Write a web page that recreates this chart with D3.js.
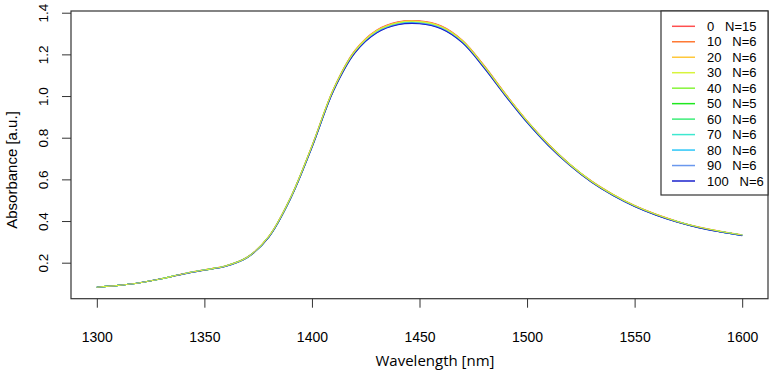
<!DOCTYPE html>
<html>
<head>
<meta charset="utf-8">
<script src="https://cdn.jsdelivr.net/npm/d3@7"></script>
<style>
  body { margin: 0; background: #fff; }
  svg { display: block; }
</style>
</head>
<body>
<div id="chart"></div>
<script>
// wavelength grid [nm]
const wavelengths = [1300, 1310, 1320, 1330, 1340, 1350, 1360, 1370, 1380, 1390, 1400,
    1410, 1420, 1430, 1440, 1450, 1460, 1470, 1480, 1490, 1500,
    1510, 1520, 1530, 1540, 1550, 1560, 1570, 1580, 1590, 1600];

// absorbance per series
const abs0 = [.082, .091, .104, .123, .147, .166, .185, .227, .327, .512, .761, 1.034, 1.219, 1.316, 1.356, 1.361, 1.337, 1.267, 1.147, 1.010, .881, .769, .672, .592, .528, .474, .432, .398, .371, .351, .334];
const abs10 = [.082, .091, .104, .123, .147, .166, .185, .227, .326, .511, .760, 1.033, 1.218, 1.314, 1.354, 1.359, 1.335, 1.266, 1.146, 1.009, .881, .768, .672, .591, .527, .474, .432, .398, .370, .350, .333];
const abs20 = [.082, .091, .104, .123, .146, .165, .185, .227, .326, .511, .759, 1.032, 1.217, 1.313, 1.353, 1.358, 1.334, 1.265, 1.144, 1.008, .880, .767, .671, .591, .527, .473, .431, .397, .370, .350, .333];
const abs30 = [.082, .091, .104, .123, .146, .165, .184, .226, .326, .510, .759, 1.031, 1.215, 1.312, 1.352, 1.357, 1.333, 1.264, 1.143, 1.007, .879, .767, .670, .590, .526, .473, .431, .397, .370, .350, .333];
const abs40 = [.082, .091, .104, .123, .146, .165, .184, .226, .325, .510, .758, 1.030, 1.214, 1.310, 1.350, 1.355, 1.331, 1.262, 1.142, 1.006, .878, .766, .670, .590, .526, .472, .430, .396, .369, .349, .332];
const abs50 = [.082, .091, .104, .123, .146, .165, .184, .226, .325, .509, .757, 1.029, 1.213, 1.309, 1.349, 1.354, 1.330, 1.261, 1.141, 1.005, .877, .765, .669, .589, .525, .472, .430, .396, .369, .349, .332];
const abs60 = [.082, .091, .104, .123, .146, .165, .184, .226, .325, .508, .756, 1.028, 1.212, 1.308, 1.348, 1.353, 1.329, 1.260, 1.140, 1.004, .876, .764, .668, .588, .524, .472, .430, .396, .369, .349, .332];
const abs70 = [.082, .091, .104, .123, .146, .165, .184, .226, .324, .508, .755, 1.027, 1.211, 1.306, 1.346, 1.351, 1.327, 1.258, 1.139, 1.003, .875, .763, .668, .588, .524, .471, .429, .395, .368, .348, .331];
const abs80 = [.082, .091, .104, .123, .146, .165, .183, .225, .324, .507, .755, 1.026, 1.209, 1.305, 1.345, 1.350, 1.326, 1.257, 1.138, 1.002, .874, .763, .667, .587, .523, .471, .429, .395, .368, .348, .331];
const abs90 = [.082, .091, .104, .123, .145, .164, .183, .225, .324, .507, .754, 1.025, 1.208, 1.304, 1.344, 1.349, 1.325, 1.256, 1.136, 1.001, .873, .762, .666, .587, .523, .470, .428, .394, .368, .348, .331];
const abs100 = [.082, .091, .104, .123, .145, .164, .183, .225, .323, .506, .753, 1.024, 1.207, 1.302, 1.342, 1.347, 1.323, 1.255, 1.135, 1.000, .873, .761, .666, .586, .522, .470, .428, .394, .367, .347, .330];

const seriesValues = [abs0, abs10, abs20, abs30, abs40, abs50, abs60, abs70, abs80, abs90, abs100];
const seriesColors = ["#ff4f4f", "#ff7a35", "#ffc83c", "#d8f43c", "#86f53a", "#1fe81f", "#3ded78", "#3ee8d0", "#2cc6f8", "#6a98ee", "#1a22cc"];
const legendConc = ["0", "10", "20", "30", "40", "50", "60", "70", "80", "90", "100"];
const legendCounts = ["N=15", "N=6", "N=6", "N=6", "N=6", "N=5", "N=6", "N=6", "N=6", "N=6", "N=6"];
// order in which lines are drawn (last on top)
const drawOrder = [0, 1, 2, 4, 5, 6, 7, 8, 9, 10, 3];

const xTicks = [1300, 1350, 1400, 1450, 1500, 1550, 1600];
const yTicks = [0.2, 0.4, 0.6, 0.8, 1.0, 1.2, 1.4];

const width = 772, height = 374;
const box = {left: 71, right: 768, top: 11, bottom: 298.7};
const axisColor = "#333";
const labelFont = "'Liberation Sans', Arial, sans-serif";

let svg = d3.select("#chart").append("svg")
    .attr("width", width)
    .attr("height", height);

let xScale = d3.scaleLinear().domain([1288, 1612]).range([box.left, box.right]);
let yScale = d3.scaleLinear().domain([0.0272, 1.4082]).range([box.bottom, box.top]);

// lines
let line = d3.line()
    .x((d, i) => xScale(wavelengths[i]))
    .y(d => yScale(d))
    .curve(d3.curveCatmullRom.alpha(0.5));

svg.append("g").classed("lines", true)
    .selectAll("path")
    .data(drawOrder)
    .enter().append("path")
    .attr("d", k => line(seriesValues[k]))
    .attr("fill", "none")
    .attr("stroke", k => seriesColors[k])
    .attr("stroke-width", 1.1);

// x axis
let xAxis = svg.append("g")
    .attr("transform", "translate(0," + box.bottom + ")")
    .call(d3.axisBottom(xScale).tickValues(xTicks).tickSize(9).tickFormat(d3.format("d")));
xAxis.select(".domain").remove();
xAxis.selectAll("line").attr("stroke", axisColor);
xAxis.selectAll("text")
    .attr("y", 43.5).attr("dy", 0)
    .attr("fill", "#000")
    .attr("font-family", labelFont)
    .attr("font-size", 14);

// y axis with rotated labels
let yAxis = svg.append("g")
    .attr("transform", "translate(" + box.left + ",0)")
    .call(d3.axisLeft(yScale).tickValues(yTicks).tickSize(9).tickFormat(d3.format(".1f")));
yAxis.select(".domain").remove();
yAxis.selectAll("line").attr("stroke", axisColor);
yAxis.selectAll("text")
    .attr("x", 0).attr("dy", 0)
    .attr("text-anchor", "middle")
    .attr("transform", "translate(-23,0) rotate(-90)")
    .attr("fill", "#000")
    .attr("font-family", labelFont)
    .attr("font-size", 13.5);

// plot frame
svg.append("rect")
    .attr("x", box.left).attr("y", box.top)
    .attr("width", box.right - box.left).attr("height", box.bottom - box.top)
    .attr("fill", "none").attr("stroke", axisColor).attr("stroke-width", 1.2);

// axis titles
svg.append("text")
    .attr("x", 435).attr("y", 366)
    .attr("text-anchor", "middle")
    .attr("font-family", "'Open Sans', sans-serif")
    .attr("font-size", 15)
    .text("Wavelength [nm]");

svg.append("text")
    .attr("transform", "translate(17,170) rotate(-90)")
    .attr("text-anchor", "middle")
    .attr("font-family", labelFont)
    .attr("font-size", 15)
    .text("Absorbance [a.u.]");

// legend
let legend = svg.append("g").classed("legend", true);
legend.append("rect")
    .attr("x", 661).attr("y", box.top)
    .attr("width", box.right - 661).attr("height", 195 - box.top)
    .attr("fill", "#fff").attr("stroke", axisColor).attr("stroke-width", 1.2);

let legendScale = d3.scaleLinear().domain([0, legendConc.length - 1]).range([26.3, 181]);

let items = legend.selectAll("g.item")
    .data(legendConc)
    .enter().append("g").classed("item", true)
    .attr("transform", (d, i) => "translate(0," + legendScale(i) + ")");

items.append("line")
    .attr("x1", 672).attr("x2", 695)
    .attr("stroke", (d, i) => seriesColors[i])
    .attr("stroke-width", 1.5);

// value and count separated by three (non-collapsing) spaces
items.append("text")
    .attr("x", 707).attr("y", 4.5)
    .attr("font-family", labelFont)
    .attr("font-size", 13)
    .text((d, i) => d + "\u00a0\u00a0\u00a0" + legendCounts[i]);
</script>
</body>
</html>
